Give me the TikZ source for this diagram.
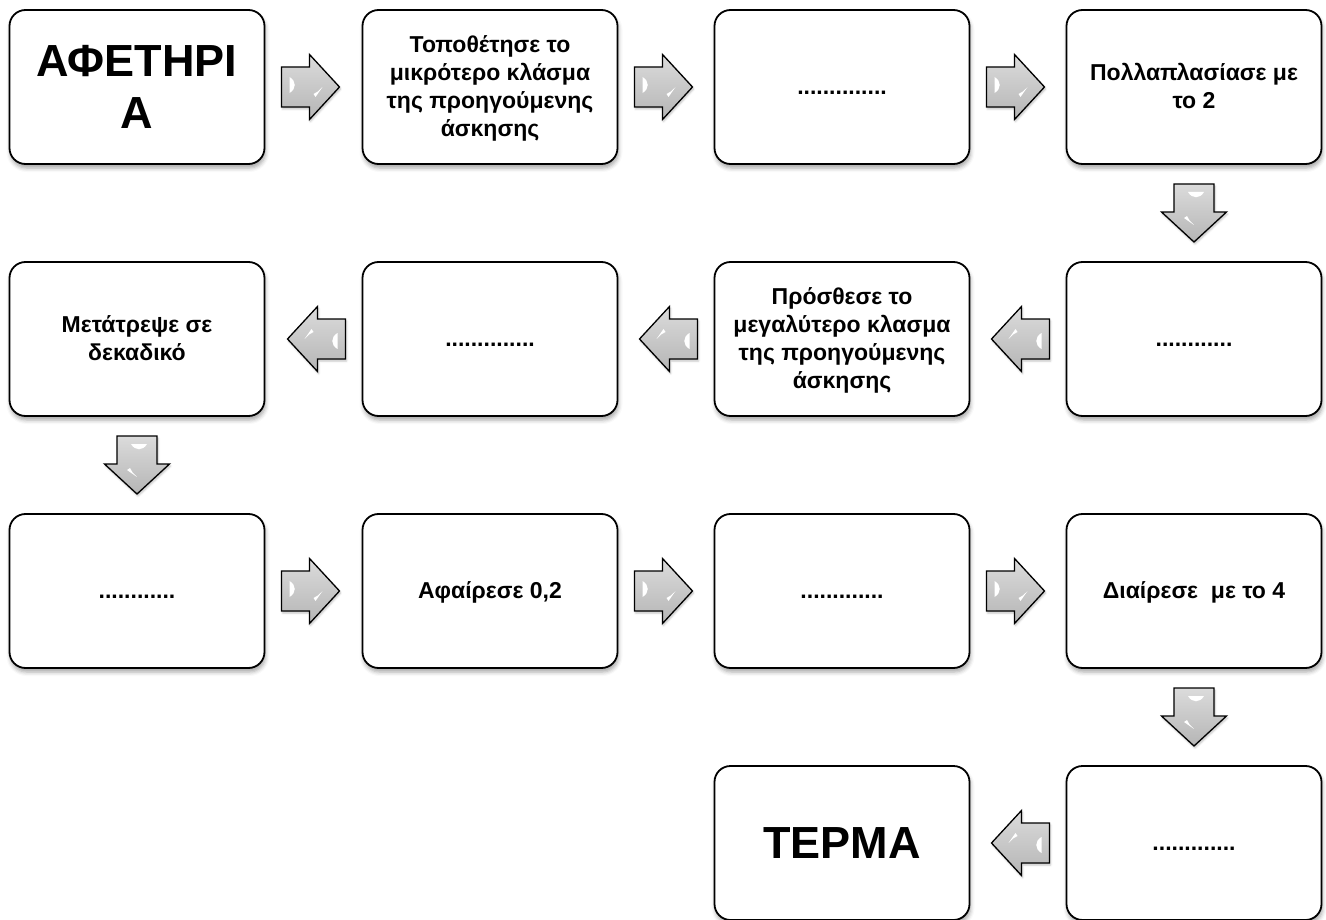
\documentclass[tikz,border=0pt]{standalone}
\usepackage{fontspec}
\setmainfont{Liberation Sans}
\usetikzlibrary{shadows.blur,calc}
\newcommand{\ls}{\rule[-0.212em]{0pt}{1.117em}}
\tikzset{
  stepbox/.style={draw=black, line width=1.8pt, fill=white, rounded corners=16pt,
    minimum width=255pt, minimum height=154pt, align=center, inner sep=0pt, outer sep=0pt,
    font=\fontsize{23}{28}\selectfont\bfseries,
    blur shadow={shadow xshift=1pt, shadow yshift=-4pt, shadow blur radius=4pt, shadow opacity=35}},
  bigbox/.style={stepbox, font=\fontsize{45}{50}\selectfont\bfseries},
  barrow/.pic={
    \draw[line width=1.3pt, line join=miter, top color=gray!28, bottom color=gray!58,
      blur shadow={shadow xshift=1pt, shadow yshift=-2pt, shadow blur radius=2pt, shadow opacity=25}]
      (0,-20) -- (28,-20) -- (28,-32.5) -- (58,0) -- (28,32.5) -- (28,20) -- (0,20) -- cycle;
    \fill[white] (8,-10) .. controls (15,-6) and (15,2) .. (8,6) -- cycle;
    \fill[white] (41,0) -- (34,10) -- (32,7) .. controls (36,5) .. cycle;
  }
}
\begin{document}
\begin{tikzpicture}[x=1pt,y=-1pt]
\useasboundingbox (0,0) rectangle (1326,920);
% row 1
\node[bigbox]  (b1)  at (137,87)  {\ls ΑΦΕΤΗΡΙ\\\ls Α};
\node[stepbox] (b2)  at (490,87)  {\ls Τοποθέτησε το\\\ls μικρότερο κλάσμα\\\ls της προηγούμενης\\\ls άσκησης};
\node[stepbox] (b3)  at (842,87)  {\ls ..............};
\node[stepbox] (b4)  at (1194,87) {\ls Πολλαπλασίασε με\\\ls το 2};
% row 2
\node[stepbox] (b5)  at (1194,339) {\ls ............};
\node[stepbox] (b6)  at (842,339)  {\ls Πρόσθεσε το\\\ls μεγαλύτερο κλασμα\\\ls της προηγούμενης\\\ls άσκησης};
\node[stepbox] (b7)  at (490,339)  {\ls ..............};
\node[stepbox] (b8)  at (137,339)  {\ls Μετάτρεψε σε\\\ls δεκαδικό};
% row 3
\node[stepbox] (b9)  at (137,591)  {\ls ............};
\node[stepbox] (b10) at (490,591)  {\ls Αφαίρεσε 0,2};
\node[stepbox] (b11) at (842,591)  {\ls .............};
\node[stepbox] (b12) at (1194,591) {\ls Διαίρεσε\ \ με το 4};
% row 4
\node[stepbox] (b13) at (1194,843) {\ls .............};
\node[bigbox]  (b14) at (842,843)  {\ls ΤΕΡΜΑ};
% arrows
\pic at ($(b1.east)+(17,0)$) {barrow};
\pic at ($(b2.east)+(17,0)$) {barrow};
\pic at ($(b3.east)+(17,0)$) {barrow};
\pic[rotate=-90] at ($(b4.south)+(0,20)$) {barrow};
\pic[rotate=180] at ($(b5.west)+(-17,0)$) {barrow};
\pic[rotate=180] at ($(b6.west)+(-17,0)$) {barrow};
\pic[rotate=180] at ($(b7.west)+(-17,0)$) {barrow};
\pic[rotate=-90] at ($(b8.south)+(0,20)$) {barrow};
\pic at ($(b9.east)+(17,0)$) {barrow};
\pic at ($(b10.east)+(17,0)$) {barrow};
\pic at ($(b11.east)+(17,0)$) {barrow};
\pic[rotate=-90] at ($(b12.south)+(0,20)$) {barrow};
\pic[rotate=180] at ($(b13.west)+(-17,0)$) {barrow};
\end{tikzpicture}
\end{document}
